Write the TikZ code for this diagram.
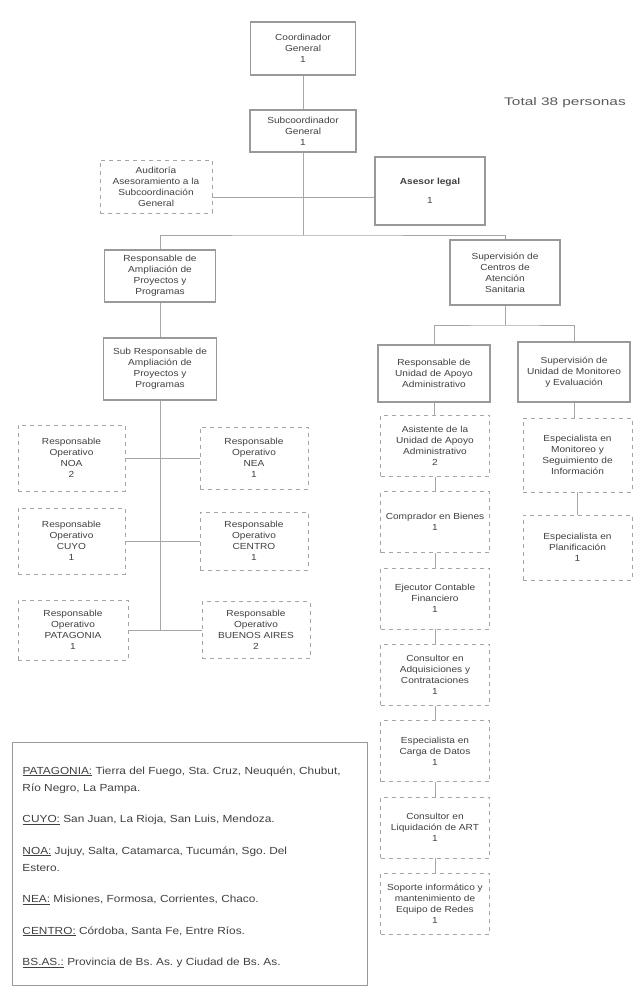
\documentclass[tikz,border=0pt]{standalone}
\usepackage{fontspec}
\setmainfont[FakeStretch=1.15]{Liberation Sans}
\newfontfamily\widefont[FakeStretch=1.4]{Liberation Sans}
\usepackage{tikz}
\usetikzlibrary{positioning, arrows.meta, shapes, fit}
\frenchspacing

\begin{document}
\begin{tikzpicture}[
x=1pt, y=-1pt,
node distance=14.5pt and 30pt,
every node/.style={align=center, font=\fontsize{8.8}{11}\selectfont, text=black!75},
jefe/.style={draw=gray!80, line width=1.2pt, minimum width=110pt, minimum height=56pt},
staff/.style={draw=gray!70, dashed, dash pattern=on 4pt off 4pt, line width=0.8pt, minimum width=109pt, minimum height=61pt},
link/.style={draw=gray!70, line width=0.8pt}
]
\useasboundingbox (0,0) rectangle (637,990);

% ====== Direccion ======
\node[jefe, minimum width=105pt, minimum height=53pt] (coord) at (303,48.5) {Coordinador\\General\\1};
\node[jefe, minimum width=106pt, minimum height=42pt] (subc) at (303,131) {Subcoordinador\\General\\1};
\node[staff, minimum width=112pt, minimum height=53pt] (audit) at (156,186.5) {Auditoría\\Asesoramiento a la\\Subcoordinación\\General};
\node[jefe, minimum height=68pt] (legal) at (430,191) {\textbf{Asesor legal}\\[8pt]1};
\node[font=\widefont\fontsize{11}{13}\selectfont, text=black!65] (total) at (565,103) {Total 38 personas};

% ====== Rama izquierda ======
\node[jefe, minimum width=111pt, minimum height=52pt] (ampl) at (160,276) {Responsable de\\Ampliación de\\Proyectos y\\Programas};
\node[jefe, minimum width=113pt, minimum height=62pt] (subampl) at (160,369) {Sub Responsable de\\Ampliación de\\Proyectos y\\Programas};

\node[staff, minimum width=107pt, minimum height=66pt] (noa) at (71.5,458) {Responsable\\Operativo\\NOA\\2};
\node[staff, minimum width=107pt, minimum height=66pt] (cuyo) at (71.5,541) {Responsable\\Operativo\\CUYO\\1};
\node[staff, minimum width=110pt, minimum height=60pt] (patag) at (73,630) {Responsable\\Operativo\\PATAGONIA\\1};
\node[staff, minimum width=108pt, minimum height=62pt] (nea) at (254,458) {Responsable\\Operativo\\NEA\\1};
\node[staff, minimum width=108pt, minimum height=58pt] (centro) at (254,541) {Responsable\\Operativo\\CENTRO\\1};
\node[staff, minimum width=108pt, minimum height=57pt] (bsas) at (256,630) {Responsable\\Operativo\\BUENOS AIRES\\2};

% ====== Rama derecha ======
\node[jefe, minimum height=65pt] (superv) at (505,272.5) {Supervisión de\\Centros de\\Atención\\Sanitaria};
\node[jefe, minimum width=112pt, minimum height=57pt] (apoyo) at (434,373.5) {Responsable de\\Unidad de Apoyo\\Administrativo};
\node[jefe, minimum width=112pt, minimum height=60pt] (monit) at (574,372) {Supervisión de\\Unidad de Monitoreo\\y Evaluación};

\node[staff, anchor=north] (asist) at (435,415) {Asistente de la\\Unidad de Apoyo\\Administrativo\\2};
\node[staff, below=of asist] (compra) {Comprador en Bienes\\1};
\node[staff, below=of compra] (ejec) {Ejecutor Contable\\Financiero\\1};
\node[staff, below=of ejec] (adqui) {Consultor en\\Adquisiciones y\\Contrataciones\\1};
\node[staff, below=of adqui] (datos) {Especialista en\\Carga de Datos\\1};
\node[staff, below=of datos] (liqui) {Consultor en\\Liquidación de ART\\1};
\node[staff, below=of liqui] (soporte) {Soporte informático y\\mantenimiento de\\Equipo de Redes\\1};

\node[staff, minimum height=74pt] (seguim) at (577.5,455) {Especialista en\\Monitoreo y\\Seguimiento de\\Información};
\node[staff, minimum height=65pt] (planif) at (577.5,547.5) {Especialista en\\Planificación\\1};

% ====== Conexiones ======
\coordinate (bus1) at (303,235);
\coordinate (bus2) at (505,325);
\coordinate (asesor) at (303,197);
\draw[link] (coord) -- (subc);
\draw[link] (subc) -- (bus1);
\draw[link] (audit.east |- asesor) -- (legal.west |- asesor);
\draw[link] (ampl.north) |- (bus1) -| (superv.north);
\draw[link] (ampl) -- (subampl);
\draw[link] (subampl.south) -- (subampl.south |- patag.east);
\draw[link] (noa) -- (nea);
\draw[link] (cuyo) -- (centro);
\draw[link] (patag) -- (bsas);
\draw[link] (superv) -- (bus2);
\draw[link] (apoyo.north) |- (bus2) -| (monit.north);
\draw[link] (apoyo) -- (asist);
\foreach \a/\b in {asist/compra, compra/ejec, ejec/adqui, adqui/datos, datos/liqui, liqui/soporte}
  \draw[link] (\a) -- (\b);
\draw[link] (monit.south) -- (seguim.north -| monit.south);
\draw[link] (seguim) -- (planif);

% ====== Regiones ======
\node[draw=gray!80, line width=1pt, anchor=north west, align=left, inner sep=0pt,
  font=\fontsize{10.3}{17}\selectfont] (regiones) at (12,742) {%
\begin{minipage}[t][243pt][t]{355pt}
\leftskip=10pt \rightskip=16pt plus 1fil \parskip=14.5pt
\vspace*{24pt}
\underline{PATAGONIA:} Tierra del Fuego, Sta. Cruz, Neuquén, Chubut, Río Negro, La Pampa.\par
\underline{CUYO:} San Juan, La Rioja, San Luis, Mendoza.\par
\underline{NOA:} Jujuy, Salta, Catamarca, Tucumán, Sgo. Del\newline Estero.\par
\underline{NEA:} Misiones, Formosa, Corrientes, Chaco.\par
\underline{CENTRO:} Córdoba, Santa Fe, Entre Ríos.\par
\underline{BS.AS.:} Provincia de Bs. As. y Ciudad de Bs. As.\par
\end{minipage}};

\end{tikzpicture}
\end{document}
